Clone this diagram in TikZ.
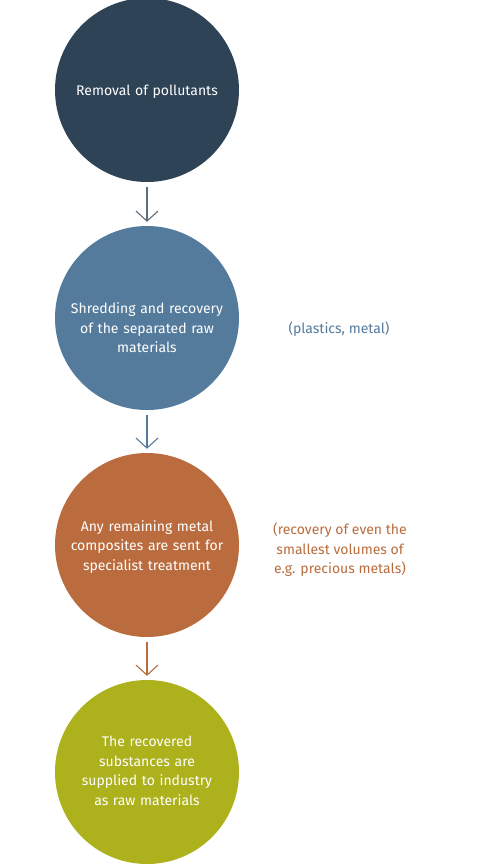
\documentclass[tikz,border=0pt]{standalone}
\usepackage{fontspec}
\setmainfont{Fira Sans}
\usetikzlibrary{arrows.meta}
\definecolor{cnavy}{HTML}{2E4356}
\definecolor{cblue}{HTML}{557B9C}
\definecolor{corange}{HTML}{BA6C3E}
\definecolor{colive}{HTML}{ACB11C}
\definecolor{carr1}{HTML}{5C6E7E}
\begin{document}
\begin{tikzpicture}[x=1pt,y=-1pt,
  stage/.style={circle,minimum size=184pt,inner sep=0pt},
  stagetext/.style={text=white,align=center,inner sep=0pt,
    font=\fontsize{14}{19.5}\selectfont,text width=164pt},
  note/.style={align=center,font=\fontsize{14}{19.5}\selectfont},
  flow/.style={line width=1.1pt,-{Straight Barb[length=10pt,width=22pt,line width=1.1pt]}}]
\useasboundingbox (0,0) rectangle (480,865);
\node[stage,fill=cnavy] (s1) at (147,90) {};
\node[stage,fill=cblue] (s2) at (147,318) {};
\node[stage,fill=corange] (s3) at (147,545) {};
\node[stage,fill=colive] (s4) at (147,772) {};
\node[stagetext] (t1) at (147,92) {Removal of pollutants};
\node[stagetext] (t2) at (147,328) {Shredding and recovery\\of the separated raw\\materials};
\node[stagetext] (t3) at (147,547) {Any remaining metal\\composites are sent for\\specialist treatment};
\node[stagetext] (t4) at (147,771) {The recovered\\substances are\\supplied to industry\\as raw materials};
\node[note,text=cblue] (n2) at (339,329) {(plastics, metal)};
\node[note,text=corange] (n3) at (340,550) {(recovery of even the\\smallest volumes of\\e.g. precious metals)};
\draw[flow,carr1] ([yshift=-5pt]s1.south) -- ([yshift=4pt]s2.north);
\draw[flow,cblue] ([yshift=-5pt]s2.south) -- ([yshift=4pt]s3.north);
\draw[flow,corange] ([yshift=-5pt]s3.south) -- ([yshift=4pt]s4.north);
\end{tikzpicture}
\end{document}
